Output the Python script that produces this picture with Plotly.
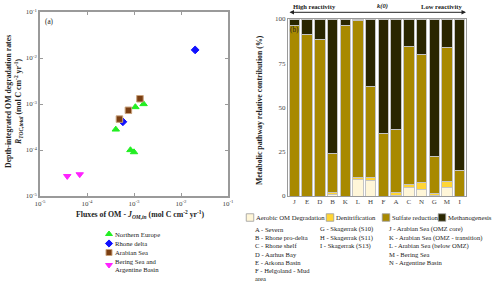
import plotly.graph_objects as go

# ---------------- data: panel (a) ----------------
northern_x = [4.1e-4, 1.07e-3, 1.6e-3, 8.4e-4, 1.0e-3]
northern_y = [2.8e-4, 8.6e-4, 1.0e-3, 1.0e-4, 9.0e-5]
rhone_x = [5.8e-4, 2.0e-2]
rhone_y = [4.1e-4, 1.5e-2]
arabian_x = [4.9e-4, 7.6e-4, 1.34e-3]
arabian_y = [4.7e-4, 7.3e-4, 1.3e-3]
bering_x = [3.8e-5, 7.0e-5]
bering_y = [2.7e-5, 2.95e-5]
log_ticks = [1e-5, 1e-4, 1e-3, 1e-2, 1e-1]
log_tick_text = ["10<sup>-5</sup>", "10<sup>-4</sup>", "10<sup>-3</sup>", "10<sup>-2</sup>", "10<sup>-1</sup>"]

# ---------------- data: panel (b) ----------------
sites = ["J", "E", "D", "B", "K", "L", "H", "F", "A", "C", "N", "G", "M", "I"]
aerobic = [0, 0, 0, 0.8, 0, 9.5, 9.0, 0, 0.3, 4.9, 3.8, 0.5, 4.7, 0]
denitrification = [0, 0, 0, 1.2, 0, 1.2, 1.2, 0, 1.7, 1.7, 3.7, 1.0, 3.4, 0]
sulfate = [96.6, 91.0, 88.7, 22.0, 96.6, 88.3, 51.6, 35.4, 35.7, 77.8, 72.5, 20.7, 75.7, 14.3]
methanogenesis = [3.4, 9.0, 11.3, 76.0, 3.4, 1.0, 38.2, 64.6, 62.3, 15.6, 20.0, 77.8, 16.2, 85.7]
pct_ticks = [0, 25, 50, 75, 100]

key_col1 = ["A - Severn", "B - Rhone pro-delta", "C - Rhone shelf", "D - Aarhus Bay",
            "E - Arkona Basin", "F - Helgoland - Mud", "area"]
key_col2 = ["G - Skagerrak (S10)", "H - Skagerrak (S11)", "I - Skagerrak (S13)"]
key_col3 = ["J - Arabian Sea (OMZ core)", "K - Arabian Sea (OMZ - transition)",
            "L - Arabian Sea (below OMZ)", "M - Bering Sea", "N - Argentine Basin"]

FONT = "Liberation Serif"
W, H = 500, 285
AX = "#9a9a9a"

scatter_groups = [
    ("Northern Europe", northern_x, northern_y, "triangle-up", "#22ee22", "#22ee22", 6.5),
    ("Rhone delta", rhone_x, rhone_y, "diamond", "#1010ff", "#1010ff", 6),
    ("Arabian Sea", arabian_x, arabian_y, "square", "#7a3e12", "#c9a27c", 6.5),
    ("Bering Sea and<br>Argentine Basin", bering_x, bering_y, "triangle-down", "#ff22ff", "#ff22ff", 6.5),
]
bar_groups = [
    ("Aerobic OM Degradation", aerobic, "#fff6d8"),
    ("Denitrification", denitrification, "#ffd535"),
    ("Sulfate reduction", sulfate, "#a88900"),
    ("Methanogenesis", methanogenesis, "#2a2600"),
]

fig = go.Figure()

for name, xs, ys, sym, col, lcol, sz in scatter_groups:
    fig.add_trace(go.Scatter(x=xs, y=ys, mode="markers", name=name, showlegend=False,
                             marker=dict(symbol=sym, color=col, size=sz,
                                         line=dict(color=lcol, width=1)),
                             xaxis="x", yaxis="y"))

for name, vals, col in bar_groups:
    fig.add_trace(go.Bar(x=sites, y=vals, name=name, showlegend=False, width=0.82,
                         marker=dict(color=col, line=dict(color="#c4c4c4", width=1)),
                         xaxis="x2", yaxis="y2"))

# --- manual legends (layout positions in pixels) ---
def px(x):
    return x / W

def py(y):
    return 1 - y / H

leg_a_rows = [234, 243.5, 252.5, 265]
for (name, xs, ys, sym, col, lcol, sz), yy in zip(scatter_groups, leg_a_rows):
    fig.add_trace(go.Scatter(x=[109], y=[yy], mode="markers", showlegend=False, hoverinfo="skip",
                             marker=dict(symbol=sym, color=col, size=sz - 0.5, line=dict(color=lcol, width=1)),
                             xaxis="x3", yaxis="y3"))

leg_b_sw = [250, 330, 386, 442]
leg_b_y = 217.5
for (name, vals, col), xx in zip(bar_groups, leg_b_sw):
    fig.add_trace(go.Scatter(x=[xx], y=[leg_b_y], mode="markers", showlegend=False, hoverinfo="skip",
                             marker=dict(symbol="square", color=col, size=7.5,
                                         line=dict(color="#9a9a9a", width=0.8)),
                             xaxis="x3", yaxis="y3"))

ann = []
def text(x, y, s, size=6.7, xanchor="left", yanchor="middle", angle=0, color="#222"):
    ann.append(dict(x=px(x), y=py(y), xref="paper", yref="paper", text=s, showarrow=False,
                    xanchor=xanchor, yanchor=yanchor, textangle=angle, borderpad=0,
                    font=dict(family=FONT, size=size, color=color)))

# legend (a) labels
text(114, 234, "Northern Europe")
text(114, 243.5, "Rhone delta")
text(114, 252.5, "Arabian Sea")
text(114, 261, "Bering Sea and")
text(114, 269.5, "Argentine Basin")

# legend (b) labels
for (name, vals, col), xx in zip(bar_groups, leg_b_sw):
    text(xx + 4.5, leg_b_y, name, size=6.7)

# key columns
row_y = [229.5, 237.7, 245.9, 254.1, 262.3, 270.5, 278.7]
for lines, xx in [(key_col1, 254), (key_col2, 319), (key_col3, 388)]:
    for s, yy in zip(lines, row_y):
        text(xx, yy, s, size=6.6)

# panel labels
text(44, 22, "(a)", size=7.2)
text(289, 30, "(b)", size=7.2)

# axis titles
text(140, 214, "<b>Fluxes of OM - <i>J</i><sub><i>OM,in</i></sub> (mol C cm<sup>-2</sup> yr<sup>-1</sup>)</b>", size=7.8, xanchor="center")
text(14, 102, "<b>Depth-integrated OM degradation rates</b><br><b><i>R</i><sub><i>TOC,total</i></sub> (mol C cm<sup>-2</sup> yr<sup>-1</sup>)</b>",
     size=7.8, xanchor="center", angle=-90)
text(259, 110, "<b>Metabolic pathway relative contribution (%)</b>", size=7.8, xanchor="center", angle=-90)

# reactivity arrow
ann.append(dict(x=px(466), y=py(12.3), xref="paper", yref="paper", ax=-178, ay=0,
                text="", showarrow=True, arrowside="end+start", arrowhead=2, arrowsize=0.9,
                arrowwidth=1, arrowcolor="#222"))
text(292, 6.5, "<b>High reactivity</b>", size=6.6)
text(382, 6.5, "<b><i>k(0)</i></b>", size=6.6, xanchor="center")
text(463, 6.5, "<b>Low reactivity</b>", size=6.6, xanchor="right")

axis_font = dict(family=FONT, size=7, color="#444")

fig.update_layout(
    width=W, height=H,
    margin=dict(l=0, r=0, t=0, b=0),
    paper_bgcolor="white",
    plot_bgcolor="rgba(0,0,0,0)",
    barmode="stack",
    bargap=0.18,
    showlegend=False,
    annotations=ann,
    xaxis=dict(type="log", range=[-5, -1], domain=[px(40), px(228)], anchor="y",
               tickvals=log_ticks, ticktext=log_tick_text, ticks="inside", ticklen=3,
               tickcolor=AX, showline=True, linecolor=AX, linewidth=1.5, mirror="ticks",
               showgrid=False, zeroline=False, tickfont=axis_font, automargin=False),
    yaxis=dict(type="log", range=[-5, -1], domain=[py(196), py(12)], anchor="x",
               tickvals=log_ticks, ticktext=log_tick_text, ticks="inside", ticklen=3,
               tickcolor=AX, showline=True, linecolor=AX, linewidth=1.5, mirror="ticks",
               showgrid=False, zeroline=False, tickfont=axis_font, automargin=False),
    xaxis2=dict(domain=[px(288), px(466)], anchor="y2", type="category",
                showline=True, linecolor=AX, linewidth=1.2, mirror=True,
                ticks="", showgrid=False, tickfont=axis_font, ticklabelstandoff=-2,
                automargin=False),
    yaxis2=dict(domain=[py(196), py(19)], anchor="x2", range=[0, 100],
                tickvals=pct_ticks, showline=True, linecolor=AX, linewidth=1.2, mirror=True,
                ticks="", showgrid=False, zeroline=False, tickfont=axis_font, automargin=False),
    xaxis3=dict(domain=[0, 1], range=[0, W], anchor="y3", visible=False, fixedrange=True),
    yaxis3=dict(domain=[0, 1], range=[H, 0], anchor="x3", visible=False, fixedrange=True),
)

# remove the default 8px page margin so the figure sits at the window's top-left corner
fig.write_html("out.html", config={"displayModeBar": False},
               post_script="document.body.style.margin='0';document.body.style.overflow='hidden';")
